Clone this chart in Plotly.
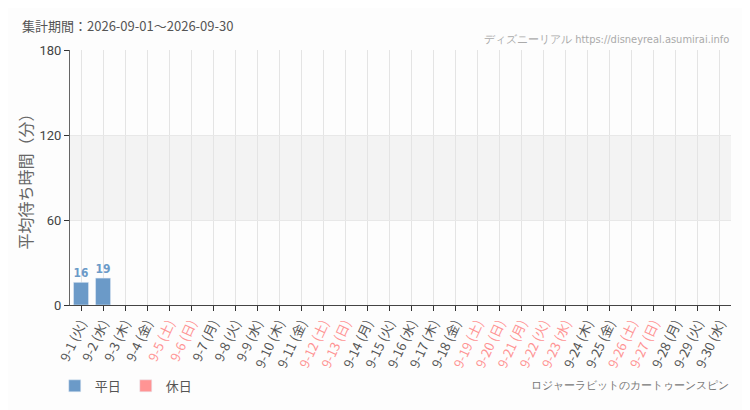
import plotly.graph_objects as go

days = list(range(1, 31))
weekdays = ["火", "水", "木", "金", "土", "日", "月"] * 5
weekdays = weekdays[:30]
holidays = [5, 6, 12, 13, 19, 20, 21, 22, 23, 26, 27]
wait_times = [16, 19] + [None] * 28

blue = "#6b9ac8"
pink = "#ff9494"
jp_font = "Noto Sans CJK JP"
narrow_font = "DejaVu Sans Condensed, Liberation Sans Narrow, sans-serif"

categories = ["9-%d" % d for d in days]
tick_text = []
for d, w in zip(days, weekdays):
    label = "9-%d (%s)" % (d, w)
    if d in holidays:
        label = "<span style='color:%s'>%s</span>" % (pink, label)
    tick_text.append(label)

weekday_vals = [v if d not in holidays else None for d, v in zip(days, wait_times)]
holiday_vals = [v if d in holidays else None for d, v in zip(days, wait_times)]

fig = go.Figure()
fig.add_trace(go.Bar(x=categories, y=weekday_vals, name="平日", marker_color=blue,
                     text=[str(v) if v else "" for v in weekday_vals], textposition="outside",
                     textfont=dict(family=narrow_font, size=14, color=blue, weight="bold"),
                     cliponaxis=False))
fig.add_trace(go.Bar(x=categories, y=holiday_vals, name="休日", marker_color=pink,
                     text=[str(v) if v else "" for v in holiday_vals], textposition="outside",
                     textfont=dict(family=narrow_font, size=14, color=pink, weight="bold"),
                     cliponaxis=False))

# 60-120 band
fig.add_hrect(y0=60, y1=120, fillcolor="#f3f3f3", line_width=0, layer="below")

# page body has an 8px margin, so the figure is a bit smaller than the window
fig.update_layout(
    width=742, height=402,
    margin=dict(l=62, r=19, t=42, b=105, autoexpand=False),
    paper_bgcolor="#fdfdfd", plot_bgcolor="#fdfdfd",
    font=dict(family=jp_font, color="#555555", size=12),
    bargap=0.32, barmode="overlay",
    showlegend=True,
    legend=dict(orientation="h", xref="container", yref="container",
                x=0.063, xanchor="left", y=0.06, yanchor="middle",
                font=dict(size=13, color="#555555"), itemwidth=30,
                bgcolor="rgba(0,0,0,0)"),
    xaxis=dict(tickvals=categories, ticktext=tick_text, tickangle=-65, automargin=False,
               showgrid=True, gridcolor="#e4e4e4", gridwidth=1,
               ticks="outside", ticklen=5, tickcolor="#333333",
               showline=True, linecolor="#444444", linewidth=1,
               tickfont=dict(family=jp_font, size=13, color="#555555"),
               range=[-0.5, 29.5]),
    yaxis=dict(range=[0, 180], tickvals=[0, 60, 120, 180], automargin=False,
               showgrid=True, gridcolor="#e8e8e8", zeroline=False,
               ticks="outside", ticklen=5, tickcolor="#333333",
               showline=True, linecolor="#666666", linewidth=1,
               tickfont=dict(family="Roboto, sans-serif", size=13, color="#444444"),
               title=dict(text="平均待ち時間（分）", font=dict(family=jp_font, size=16, color="#666666"),
                          standoff=2)),
)

fig.add_annotation(text="集計期間：2026-09-01～2026-09-30", xref="paper", yref="paper",
                   x=-0.076, y=1.098, xanchor="left", yanchor="middle", showarrow=False,
                   font=dict(family=jp_font, size=13, color="#555555"))
fig.add_annotation(text="ディズニーリアル https://disneyreal.asumirai.info", xref="paper", yref="paper",
                   x=1, y=1.04, xanchor="right", yanchor="middle", showarrow=False,
                   font=dict(family=narrow_font, size=11, color="#aaaaaa"))
fig.add_annotation(text="ロジャーラビットのカートゥーンスピン", xref="paper", yref="paper",
                   x=1, y=-0.314, xanchor="right", yanchor="middle", showarrow=False,
                   font=dict(family=narrow_font, size=11, color="#777777"))

fig.write_html("out.html")
